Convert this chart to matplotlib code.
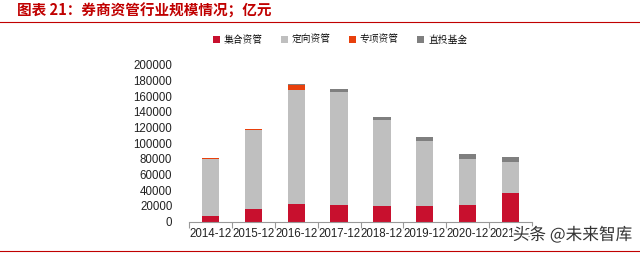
import matplotlib
matplotlib.use("Agg")
import matplotlib.pyplot as plt
import matplotlib.patheffects as pe
import numpy as np

categories = ["2014-12", "2015-12", "2016-12", "2017-12", "2018-12", "2019-12", "2020-12", "2021-12"]
series_names = ["集合资管", "定向资管", "专项资管", "直投基金"]
jihe = [7000, 15600, 22400, 21100, 19800, 19800, 21000, 36400]
dingxiang = [72900, 101400, 145600, 143900, 109500, 83500, 58500, 40000]
zhuanxiang = [800, 1600, 6800, 0, 0, 0, 0, 0]
zhitou = [0, 0, 1200, 4300, 4200, 4700, 6400, 6000]
yticks = [0, 20000, 40000, 60000, 80000, 100000, 120000, 140000, 160000, 180000, 200000]

colors = ["#C8102E", "#BFBFBF", "#E8400C", "#7F7F7F"]

plt.rcParams['font.family'] = ['Liberation Sans', 'Noto Sans CJK SC', 'DejaVu Sans']

fig = plt.figure(figsize=(6.4, 2.54), dpi=100)
ax = fig.add_axes([189/640, 1-221.5/254, 343/640, 156.5/254])

x = np.arange(len(categories))
bottom = np.zeros(len(categories))
for name, vals, c in zip(series_names, [jihe, dingxiang, zhuanxiang, zhitou], colors):
    ax.bar(x, vals, 0.4, bottom=bottom, color=c, label=name, zorder=2)
    bottom += np.array(vals)

ax.set_xlim(-0.5, len(categories) - 0.5)
ax.set_ylim(0, 200000)
ax.set_yticks(yticks)
ax.set_yticklabels([str(v) for v in yticks], fontsize=8.3, color="#222222")
ax.tick_params(axis='y', length=0, pad=12)
ax.set_xticks(x)
ax.set_xticklabels(categories, fontsize=8.3, color="#222222")
ax.set_xticks(np.arange(-0.5, len(categories)), minor=True)
ax.tick_params(axis='x', which='major', length=0, pad=5)
ax.tick_params(axis='x', which='minor', length=4, color="#999999", width=0.8)
for s in ['top', 'right', 'left']:
    ax.spines[s].set_visible(False)
ax.spines['bottom'].set_color("#999999")
ax.spines['bottom'].set_linewidth(0.8)

# legend
handles, labels = ax.get_legend_handles_labels()
leg = fig.legend(handles, labels, loc='center', bbox_to_anchor=(340/640, 1-40/254), ncol=4,
                 frameon=False, handlelength=0.7, handleheight=0.7,
                 handletextpad=0.4, columnspacing=1.9,
                 prop={'family': ['Noto Serif CJK SC', 'Noto Sans CJK SC'], 'size': 7})

# title and rules
fig.text(17/640, 1-11/254, "图表 21：券商资管行业规模情况；亿元", fontsize=10.5, color="#C00000",
         fontweight='bold', va='center', ha='left', family=['Noto Sans CJK SC', 'DejaVu Sans'])
fig.add_artist(plt.Line2D([0, 1], [1-22/254, 1-22/254], color="#C00000", lw=0.8, transform=fig.transFigure))
fig.add_artist(plt.Line2D([0, 1], [1-251/254, 1-251/254], color="#C00000", lw=0.8, transform=fig.transFigure))

# watermark
fig.text(632/640, 1-235/254, "头条 @未来智库", fontsize=12, color="#333333", ha='right', va='center',
         family=['Noto Sans CJK SC', 'DejaVu Sans'],
         path_effects=[pe.withStroke(linewidth=3, foreground="white")])

fig.savefig("out.png", dpi=100)
